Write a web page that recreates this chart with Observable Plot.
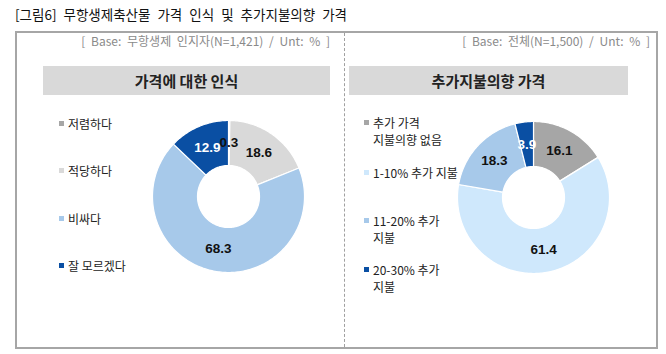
<!DOCTYPE html>
<html><head><meta charset="utf-8">
<script src="https://cdn.jsdelivr.net/npm/d3@7"></script>
<script src="https://cdn.jsdelivr.net/npm/@observablehq/plot@0.6"></script>
<style>
body{margin:0;background:#fff;font-family:"Noto Sans CJK KR","Noto Sans",sans-serif;}
#root{position:relative;width:666px;height:354px;overflow:hidden;}
.abs{position:absolute;white-space:nowrap;}
.title{left:15px;top:4px;font-size:13.5px;color:#111;word-spacing:4px;}
.base{font-size:12px;color:#8a8a8a;top:32px;line-height:18px;word-spacing:3px;}
.hdr{background:#d9d9d9;top:66px;height:29px;line-height:29px;text-align:center;font-weight:bold;font-size:15px;color:#222;}
.leg{font-size:12px;color:#222;line-height:17px;}
.sq{display:inline-block;width:5px;height:5px;margin-right:4px;vertical-align:middle;position:relative;top:-2px;}
.plot{position:absolute;}
</style></head>
<body><div id="root">
<div class="abs title">[그림6] 무항생제축산물 가격 인식 및 추가지불의향 가격</div>
<div class="abs" style="left:15px;top:31px;width:639px;height:314px;border:2px solid #a6a6a6;"></div>
<div class="abs" style="left:344px;top:33px;height:314px;border-left:1px dashed #a0a0a0;"></div>
<div class="abs base" id="base1" style="right:336px;"></div>
<div class="abs base" id="base2" style="right:16px;"></div>
<div class="abs hdr" id="hdr1" style="left:43px;width:287px;"></div>
<div class="abs hdr" id="hdr2" style="left:349px;width:279px;"></div>
<div class="plot" id="p1" style="left:148px;top:116px;"></div>
<div class="plot" id="p2" style="left:453px;top:117px;"></div>
</div>
<script>
// ---- data ----
const titles = ["가격에 대한 인식", "추가지불의향 가격"];
const bases = ["[ Base: 무항생제 인지자(N=1,421) / Unt: % ]", "[ Base: 전체(N=1,500) / Unt: % ]"];

const cats1 = ["저렴하다", "적당하다", "비싸다", "잘 모르겠다"];
const vals1 = [0.3, 18.6, 68.3, 12.9];
const cols1 = ["#a6a6a6", "#d9d9d9", "#a7c9ea", "#0a4fa3"];

const cats2 = ["추가 가격\n지불의향 없음", "1-10% 추가 지불", "11-20% 추가\n지불", "20-30% 추가\n지불"];
const vals2 = [16.1, 61.4, 18.3, 3.9];
const cols2 = ["#a6a6a6", "#cfe8fc", "#a7c9ea", "#0a4fa3"];
const labelColors = ["#111", "#111", "#111", "#fff"];

document.getElementById("base1").textContent = bases[0];
document.getElementById("base2").textContent = bases[1];
document.getElementById("hdr1").textContent = titles[0];
document.getElementById("hdr2").textContent = titles[1];

function legend(cats, cols, x, ys) {
  const root = document.getElementById("root");
  cats.forEach((c, i) => {
    const lines = c.split("\n");
    lines.forEach((ln, j) => {
      const d = document.createElement("div");
      d.className = "abs leg";
      d.style.left = (j === 0 ? x : x + 9) + "px";
      d.style.top = (ys[i] - 9 + j * 17) + "px";
      if (j === 0) {
        const s = document.createElement("span");
        s.className = "sq"; s.style.background = cols[i];
        d.appendChild(s);
      }
      d.appendChild(document.createTextNode(ln));
      root.appendChild(d);
    });
  });
}
legend(cats1, cols1, 59, [124, 171, 219, 266]);
legend(cats2, cols2, 364, [123, 173, 221, 270]);

function donut(id, cats, vals, cols) {
  const R = 76, r = 31;
  const arcs = d3.pie().sort(null).value(d => d)(vals);
  const pts = [];
  const labels = [];
  arcs.forEach((a, i) => {
    const n = Math.max(2, Math.ceil((a.endAngle - a.startAngle) / 0.02));
    for (let k = 0; k <= n; k++) {
      const t = a.startAngle + (a.endAngle - a.startAngle) * k / n;
      pts.push({cat: cats[i], x: R * Math.sin(t), y: R * Math.cos(t)});
    }
    for (let k = n; k >= 0; k--) {
      const t = a.startAngle + (a.endAngle - a.startAngle) * k / n;
      pts.push({cat: cats[i], x: r * Math.sin(t), y: r * Math.cos(t)});
    }
    const m = (a.startAngle + a.endAngle) / 2, rm = (R + r) / 2;
    labels.push({x: rm * Math.sin(m), y: rm * Math.cos(m), text: vals[i].toFixed(1), c: labelColors[i]});
  });
  const chart = Plot.plot({
    width: 160, height: 160, margin: 0,
    x: {domain: [-80, 80], axis: null},
    y: {domain: [-80, 80], axis: null},
    color: {domain: cats, range: cols},
    style: {background: "transparent", overflow: "visible"},
    marks: [
      Plot.line(pts, {x: "x", y: "y", z: "cat", fill: "cat", stroke: "white", strokeWidth: 1.2, curve: "linear-closed"}),
      Plot.text(labels, {x: "x", y: "y", text: "text", fill: d => d.c, fontSize: 13.5, fontWeight: "bold", fontFamily: "Liberation Sans, Arial, sans-serif"})
    ]
  });
  document.getElementById(id).appendChild(chart);
}
donut("p1", cats1, vals1, cols1);
donut("p2", cats2, vals2, cols2);
</script>
</body></html>
